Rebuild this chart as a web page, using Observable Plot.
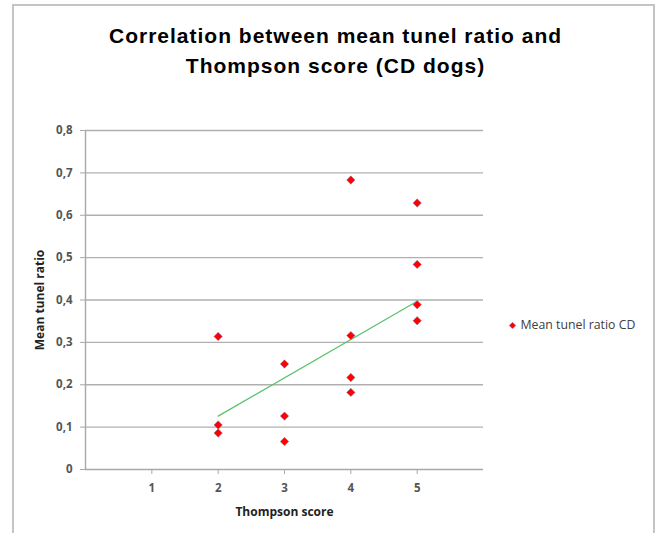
<!DOCTYPE html>
<html>
<head>
<meta charset="utf-8">
<script src="https://cdn.jsdelivr.net/npm/d3@7"></script>
<script src="https://cdn.jsdelivr.net/npm/@observablehq/plot@0.6"></script>
<style>
  body { margin: 0; background: #fff; }
  #wrap { position: relative; width: 659px; height: 533px; overflow: hidden; }
  #frame { position: absolute; left: 12px; top: 4px; width: 639px; height: 560px; border: 2px solid #c4c4c4; }
  #chart { position: absolute; left: 0; top: 0; }
</style>
</head>
<body>
<div id="wrap"><div id="frame"></div><div id="chart"></div></div>
<script>
const titleLines = ["Correlation between mean tunel ratio and", "Thompson score (CD dogs)"];
const xLabel = "Thompson score";
const yLabel = "Mean tunel ratio";
const seriesName = "Mean tunel ratio CD";
const xValues = [2, 2, 2, 3, 3, 3, 4, 4, 4, 4, 5, 5, 5, 5];
const yValues = [0.314, 0.105, 0.086, 0.249, 0.126, 0.066, 0.683, 0.316, 0.217, 0.182, 0.629, 0.484, 0.389, 0.351];
const trendX = [2, 5];
const trendY = [0.126, 0.397];
const xTicks = [1, 2, 3, 4, 5];
const yTicks = [0, 0.1, 0.2, 0.3, 0.4, 0.5, 0.6, 0.7, 0.8];

const points = xValues.map((x, i) => ({x, y: yValues[i]}));
const trend = trendX.map((x, i) => ({x, y: trendY[i]}));
const fmt = d => d === 0 ? "0" : d.toFixed(1).replace(".", ",");
const font = "'Open Sans', 'Liberation Sans', sans-serif";
const titleFont = "'Liberation Sans', sans-serif";

const chart = Plot.plot({
  width: 659,
  height: 533,
  marginLeft: 85,
  marginRight: 176,
  marginTop: 130,
  marginBottom: 64,
  style: {fontFamily: font, background: "transparent", overflow: "visible"},
  x: {domain: [0, 6]},
  y: {domain: [0, 0.8]},
  marks: [
    Plot.ruleY(yTicks.filter(d => d > 0), {stroke: "#b0b0b0", strokeWidth: 1.4}),
    Plot.ruleY([0], {stroke: "#a8a8a8", strokeWidth: 1.4}),
    Plot.ruleX([0], {stroke: "#a8a8a8", strokeWidth: 1.4}),
    Plot.axisY(yTicks, {tickSize: 5, tickPadding: 8, tickFormat: fmt, stroke: "#a8a8a8", fill: "#555", fontSize: 11.5, fontWeight: "bold", label: null}),
    Plot.axisX(xTicks, {tickSize: 5, tickPadding: 9, tickFormat: d => String(d), stroke: "#a8a8a8", fill: "#555", fontSize: 11.5, fontWeight: "bold", label: null}),
    Plot.line(trend, {x: "x", y: "y", stroke: "#5cc26e", strokeWidth: 1.3}),
    Plot.dot(points, {x: "x", y: "y", symbol: "diamond2", r: 3.8, fill: "#ff0000", stroke: "#7080c0", strokeWidth: 0.5}),
    Plot.text([yLabel], {frameAnchor: "left", dx: -45, rotate: -90, textAnchor: "middle", lineAnchor: "middle", fontWeight: "bold", fontSize: 12, fill: "#222"}),
    Plot.text([xLabel], {frameAnchor: "bottom", dy: 43, textAnchor: "middle", lineAnchor: "middle", fontWeight: "bold", fontSize: 12, fill: "#222"}),
    Plot.text([titleLines[0]], {frameAnchor: "top", dx: 51, dy: -88, lineAnchor: "bottom", textAnchor: "middle", fontWeight: "bold", fontSize: 21, fill: "#000", fontFamily: titleFont}),
    Plot.text([titleLines[1]], {frameAnchor: "top", dx: 51, dy: -58, lineAnchor: "bottom", textAnchor: "middle", fontWeight: "bold", fontSize: 21, fill: "#000", fontFamily: titleFont}),
    Plot.dot([seriesName], {frameAnchor: "right", dx: 29, dy: 25.5, symbol: "diamond2", r: 3, fill: "#ff0000", stroke: "#7080c0", strokeWidth: 0.4}),
    Plot.text([seriesName], {frameAnchor: "right", dx: 37, dy: 25.5, textAnchor: "start", lineAnchor: "middle", fontSize: 12.3, fill: "#404040"})
  ]
});
d3.select(chart).selectAll("text")
  .filter(function() { return titleLines.includes(this.textContent); })
  .style("letter-spacing", "1px");
document.getElementById("chart").appendChild(chart);
</script>
</body>
</html>
